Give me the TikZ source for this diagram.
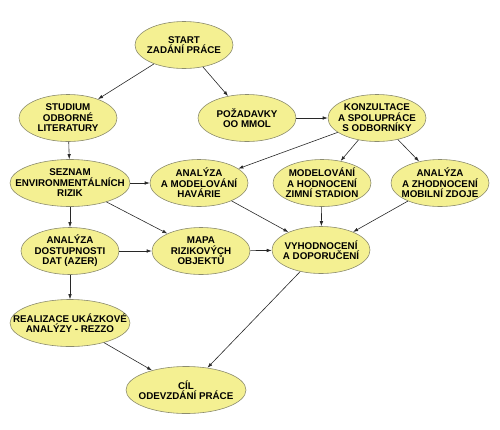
\documentclass[tikz,border=0pt]{standalone}
\usepackage{fontspec}
\setmainfont{Liberation Sans}
\usetikzlibrary{shapes.geometric,arrows.meta}
\definecolor{ovalfill}{RGB}{244,240,146}
\definecolor{ovalline}{RGB}{140,140,110}
\definecolor{arrowline}{RGB}{40,40,40}
\tikzset{
    oval/.style={ellipse, draw=ovalline, fill=ovalfill, line width=0.6pt,
        minimum width=98pt, minimum height=47pt, inner xsep=-30pt, inner ysep=-20pt,
        align=center, font=\fontsize{9.8}{10.5}\selectfont\bfseries},
    wideoval/.style={oval, minimum width=120pt},
    link/.style={draw=arrowline, line width=0.6pt, -{Latex[length=5pt,width=3.5pt]}}
}
\begin{document}
\begin{tikzpicture}[x=1pt, y=-1pt]
    \useasboundingbox (0,0) rectangle (500,429);
    % Draw the ovals
    \node[oval] (start) at (184,45) {START\\ZADÁNÍ PRÁCE};
    \node[oval] (studium) at (68,118) {STUDIUM\\ODBORNÉ\\LITERATURY};
    \node[oval] (pozadavky) at (247,118) {POŽADAVKY\\OO MMOL};
    \node[oval] (konzultace) at (377,118) {KONZULTACE\\A SPOLUPRÁCE\\S ODBORNÍKY};
    \node[wideoval] (seznam) at (70,183) {SEZNAM\\ENVIRONMENTÁLNÍCH\\RIZIK};
    \node[oval] (havarie) at (199,183) {ANALÝZA\\A MODELOVÁNÍ\\HAVÁRIE};
    \node[oval] (stadion) at (322,183) {MODELOVÁNÍ\\A HODNOCENÍ\\ZIMNÍ STADION};
    \node[oval] (mobilni) at (440,183) {ANALÝZA\\A ZHODNOCENÍ\\MOBILNÍ ZDOJE};
    \node[oval] (dostupnost) at (70,251) {ANALÝZA\\DOSTUPNOSTI\\DAT (AZER)};
    \node[oval] (mapa) at (201,251) {MAPA\\RIZIKOVÝCH\\OBJEKTŮ};
    \node[oval] (vyhodnoceni) at (321,250) {VYHODNOCENÍ\\A DOPORUČENÍ};
    \node[wideoval] (realizace) at (70,323) {REALIZACE UKÁZKOVÉ\\ANALÝZY - REZZO};
    \node[wideoval] (cil) at (186,390) {CÍL\\ODEVZDÁNÍ PRÁCE};

    % Draw the arrows
    \draw[link] (start) -- (studium);
    \draw[link] (start) -- (pozadavky);
    \draw[link] (studium) -- (seznam);
    \draw[link] (pozadavky) -- (konzultace);
    \draw[link] (konzultace) -- (havarie);
    \draw[link] (konzultace) -- (stadion);
    \draw[link] (konzultace) -- (mobilni);
    \draw[link] (seznam) -- (havarie);
    \draw[link] (seznam) -- (mapa);
    \draw[link] (seznam) -- (dostupnost);
    \draw[link] (havarie) -- (vyhodnoceni);
    \draw[link] (stadion) -- (vyhodnoceni);
    \draw[link] (mobilni) -- (vyhodnoceni);
    \draw[link] (dostupnost) -- (mapa);
    \draw[link] (mapa) -- (vyhodnoceni);
    \draw[link] (dostupnost) -- (realizace);
    \draw[link] (realizace) -- (cil);
    \draw[link] (vyhodnoceni) -- (cil);
\end{tikzpicture}
\end{document}
